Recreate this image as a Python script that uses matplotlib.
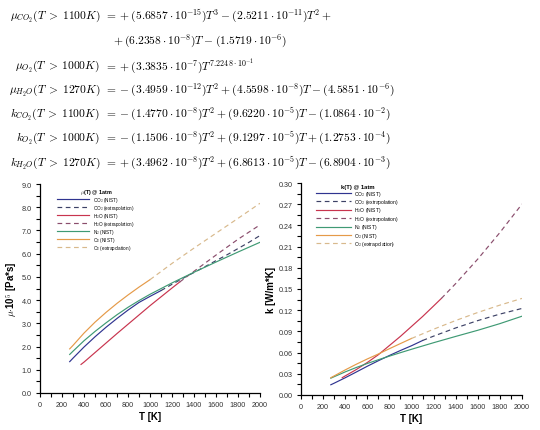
import matplotlib
matplotlib.use("Agg")
import matplotlib.pyplot as plt
from matplotlib.ticker import MultipleLocator, FormatStrFormatter

plt.rcParams['mathtext.fontset'] = 'cm'
plt.rcParams['font.family'] = ['Liberation Sans', 'DejaVu Sans']

# ---------------- data ----------------
# viscosity mu*1e5 [Pa*s]
mu_co2_T = [270, 300, 400, 500, 600, 700, 800, 900, 1000, 1100]
mu_co2 = [1.35, 1.50, 1.98, 2.42, 2.83, 3.21, 3.57, 3.90, 4.16, 4.41]
mu_co2x_T = [1100, 1200, 1300, 1400, 1500, 1600, 1700, 1800, 1900, 2000]
mu_co2x = [4.41, 4.68, 4.94, 5.19, 5.44, 5.70, 5.95, 6.22, 6.49, 6.78]
mu_h2o_T = [373, 400, 500, 600, 700, 800, 900, 1000, 1100, 1200, 1270]
mu_h2o = [1.23, 1.33, 1.74, 2.15, 2.56, 2.96, 3.36, 3.76, 4.14, 4.52, 4.78]
mu_h2ox_T = [1270, 1400, 1600, 1800, 2000]
mu_h2ox = [4.78, 5.24, 5.94, 6.62, 7.24]
mu_n2_T = [270, 300, 400, 500, 600, 700, 800, 900, 1000, 1200, 1400, 1600, 1800, 2000]
mu_n2 = [1.66, 1.80, 2.25, 2.65, 3.02, 3.37, 3.69, 3.98, 4.25, 4.74, 5.20, 5.64, 6.07, 6.49]
mu_o2_T = [270, 300, 400, 500, 600, 700, 800, 900, 1000]
mu_o2 = [1.90, 2.05, 2.58, 3.05, 3.47, 3.86, 4.22, 4.56, 4.88]
mu_o2x_T = [1000, 1200, 1400, 1600, 1800, 2000]
mu_o2x = [4.88, 5.58, 6.24, 6.88, 7.52, 8.17]

# thermal conductivity k [W/m*K]
k_co2_T = [270, 300, 400, 500, 600, 700, 800, 900, 1000, 1100]
k_co2 = [0.0145, 0.0167, 0.0244, 0.0325, 0.0407, 0.0485, 0.0559, 0.0630, 0.0697, 0.0771]
k_co2x_T = [1100, 1200, 1400, 1600, 1800, 2000]
k_co2x = [0.0771, 0.0833, 0.0949, 0.1053, 0.1145, 0.1225]
k_h2o_T = [373, 400, 500, 600, 700, 800, 900, 1000, 1100, 1200, 1270]
k_h2o = [0.0245, 0.0270, 0.0360, 0.0460, 0.0570, 0.0700, 0.0830, 0.0970, 0.1110, 0.1260, 0.1366]
k_h2ox_T = [1270, 1400, 1600, 1800, 2000]
k_h2ox = [0.1366, 0.1577, 0.1924, 0.2299, 0.2702]
k_n2_T = [270, 300, 400, 500, 600, 700, 800, 900, 1000, 1200, 1400, 1600, 1800, 2000]
k_n2 = [0.0238, 0.0259, 0.0327, 0.0389, 0.0446, 0.0499, 0.0550, 0.0599, 0.0647, 0.0740, 0.0829, 0.0916, 0.1010, 0.1115]
k_o2_T = [270, 300, 400, 500, 600, 700, 800, 900, 1000]
k_o2 = [0.0245, 0.0270, 0.0355, 0.0435, 0.0510, 0.0580, 0.0655, 0.0728, 0.0800]
k_o2x_T = [1000, 1200, 1400, 1600, 1800, 2000]
k_o2x = [0.0800, 0.0931, 0.1054, 0.1168, 0.1272, 0.1367]

labels = [r"CO$_2$ (NIST)", r"CO$_2$ (extrapolation)", r"H$_2$O (NIST)",
          r"H$_2$O (extrapolation)", r"N$_2$ (NIST)", r"O$_2$ (NIST)",
          r"O$_2$ (extrapolation)"]

P = r"\:{+}\:"
M = r"\:{-}\:"
equations = [
    (r"$\mu_{CO_2}(T \;>\; 1100K)$",
     r"$=\;{+}\:(5.6857\cdot 10^{-15})T^3" + M + r"(2.5211\cdot 10^{-11})T^2\:{+}$"),
    (None, r"${+}\:(6.2358\cdot 10^{-8})T" + M + r"(1.5719\cdot 10^{-6})$"),
    (r"$\mu_{O_2}(T \;>\; 1000K)$",
     r"$=\;{+}\:(3.3835\cdot 10^{-7})T^{7.2248\cdot 10^{-1}}$"),
    (r"$\mu_{H_2O}(T \;>\; 1270K)$",
     r"$=\;{-}\:(3.4959\cdot 10^{-12})T^2" + P + r"(4.5598\cdot 10^{-8})T" + M
     + r"(4.5851\cdot 10^{-6})$"),
    (r"$k_{CO_2}(T \;>\; 1100K)$",
     r"$=\;{-}\:(1.4770\cdot 10^{-8})T^2" + P + r"(9.6220\cdot 10^{-5})T" + M
     + r"(1.0864\cdot 10^{-2})$"),
    (r"$k_{O_2}(T \;>\; 1000K)$",
     r"$=\;{-}\:(1.1506\cdot 10^{-8})T^2" + P + r"(9.1297\cdot 10^{-5})T" + P
     + r"(1.2753\cdot 10^{-4})$"),
    (r"$k_{H_2O}(T \;>\; 1270K)$",
     r"$=\;{+}\:(3.4962\cdot 10^{-8})T^2" + P + r"(6.8613\cdot 10^{-5})T" + M
     + r"(6.8904\cdot 10^{-3})$"),
]

c_co2 = "#2f3490"
c_co2x = "#3d4266"
c_h2o = "#c8344e"
c_h2ox = "#8a4d6c"
c_n2 = "#3f9a74"
c_o2 = "#e59a48"
c_o2x = "#d8b98c"

W, H = 540, 431
fig = plt.figure(figsize=(W / 100, H / 100), dpi=100)
renderer = fig.canvas.get_renderer()

# size the equation font from the reference width of one left-hand side
probe = fig.text(0, 0, equations[3][0], fontsize=10)
pw = probe.get_window_extent(renderer).width
probe.remove()
eq_fs = 10 * 91.0 / pw

eq_y = [16, 41, 66, 90, 114, 138, 163]
for (lhs, rhs), yp in zip(equations, eq_y):
    yf = 1 - yp / H
    if lhs is None:
        fig.text(113 / W, yf, rhs, ha='left', va='center', fontsize=eq_fs)
    else:
        fig.text(100 / W, yf, lhs, ha='right', va='center', fontsize=eq_fs)
        fig.text(104 / W, yf, rhs, ha='left', va='center', fontsize=eq_fs)

ax1 = fig.add_axes([40 / W, 1 - 394 / H, 220 / W, 209 / H])
ax2 = fig.add_axes([301 / W, 1 - 396 / H, 221 / W, 212 / H])


def style(ax):
    for s in ('top', 'right'):
        ax.spines[s].set_visible(False)
    for s in ('left', 'bottom'):
        ax.spines[s].set_linewidth(0.9)
    ax.tick_params(which='both', direction='out', length=3, width=0.8,
                   labelsize=5.2, labelcolor='#333333', pad=3)
    ax.set_xlim(0, 2000)
    ax.xaxis.set_major_locator(MultipleLocator(200))
    ax.xaxis.set_minor_locator(MultipleLocator(100))
    ax.set_xlabel("T [K]", fontsize=7, fontweight='bold', labelpad=2)


lw = 0.85
dash = (0, (4, 3))
ax1.plot(mu_co2_T, mu_co2, color=c_co2, lw=lw, label=labels[0])
ax1.plot(mu_co2x_T, mu_co2x, color=c_co2x, lw=lw, ls=dash, label=labels[1])
ax1.plot(mu_h2o_T, mu_h2o, color=c_h2o, lw=lw, label=labels[2])
ax1.plot(mu_h2ox_T, mu_h2ox, color=c_h2ox, lw=lw, ls=dash, label=labels[3])
ax1.plot(mu_n2_T, mu_n2, color=c_n2, lw=lw, label=labels[4])
ax1.plot(mu_o2_T, mu_o2, color=c_o2, lw=lw, label=labels[5])
ax1.plot(mu_o2x_T, mu_o2x, color=c_o2x, lw=lw, ls=dash, label=labels[6])
style(ax1)
ax1.set_ylim(0, 9)
ax1.yaxis.set_major_locator(MultipleLocator(1.0))
ax1.yaxis.set_minor_locator(MultipleLocator(0.5))
ax1.yaxis.set_major_formatter(FormatStrFormatter('%.1f'))
ax1.set_ylabel(r"$\mathbf{\mu}$$\cdot$10$^{\mathbf{5}}$ [Pa*s]", fontsize=7,
               fontweight='bold', labelpad=1.5)

ax2.plot(k_co2_T, k_co2, color=c_co2, lw=lw, label=labels[0])
ax2.plot(k_co2x_T, k_co2x, color=c_co2x, lw=lw, ls=dash, label=labels[1])
ax2.plot(k_h2o_T, k_h2o, color=c_h2o, lw=lw, label=labels[2])
ax2.plot(k_h2ox_T, k_h2ox, color=c_h2ox, lw=lw, ls=dash, label=labels[3])
ax2.plot(k_n2_T, k_n2, color=c_n2, lw=lw, label=labels[4])
ax2.plot(k_o2_T, k_o2, color=c_o2, lw=lw, label=labels[5])
ax2.plot(k_o2x_T, k_o2x, color=c_o2x, lw=lw, ls=dash, label=labels[6])
style(ax2)
ax2.set_ylim(0, 0.30)
ax2.yaxis.set_major_locator(MultipleLocator(0.03))
ax2.yaxis.set_minor_locator(MultipleLocator(0.015))
ax2.yaxis.set_major_formatter(FormatStrFormatter('%.2f'))
ax2.set_ylabel("k [W/m*K]", fontsize=7, fontweight='bold', labelpad=2)

legend_cfg = (
    (ax1, r"$\mathbf{\mu}$(T) @ 1atm", (0.077, 0.985), 3.3, 0.9, -0.23),
    (ax2, "k(T) @ 1atm", (0.068, 0.995), 3.6, 0.6, -0.11),
)
for ax, title, anchor, fs, pad, sp in legend_cfg:
    leg = ax.legend(loc='upper left', bbox_to_anchor=anchor, frameon=False,
                    fontsize=fs, title=title, title_fontsize=fs + 0.6,
                    handlelength=7, labelspacing=sp, handletextpad=pad,
                    borderaxespad=0, borderpad=0)
    leg.get_title().set_fontweight('bold')

fig.savefig("out.png", dpi=100)
